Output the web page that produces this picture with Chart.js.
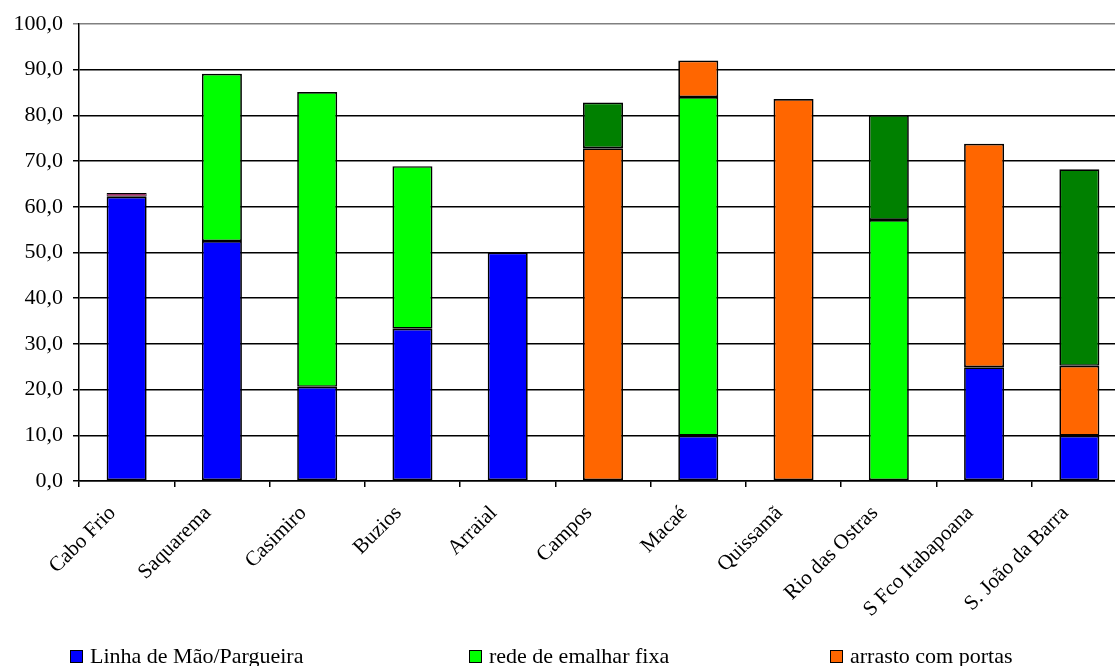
<!DOCTYPE html>
<html>
<head>
<meta charset="utf-8">
<script src="https://cdn.jsdelivr.net/npm/chart.js@4"></script>
<style>
    body { margin: 0; overflow: hidden; background: #fff; }
    #wrap { position: relative; width: 1135px; height: 666px; }
    .leg { position: absolute; top: 643px; font: 22px "Liberation Serif", "Times New Roman", serif; color: #000; white-space: nowrap; }
    .leg span.box { display: inline-block; width: 11px; height: 11px; border: 1.5px solid #000; margin-right: 7px; vertical-align: 0px; }
</style>
</head>
<body>
<div id="wrap">
    <canvas id="chart" width="1135" height="666"></canvas>
</div>
<script>
// Stacked bars per municipality (%)

const categories = ['Cabo Frio', 'Saquarema', 'Casimiro', 'Buzios', 'Arraial', 'Campos', 'Macaé', 'Quissamã', 'Rio das Ostras', 'S Fco Itabapoana', 'S. João da Barra'];

const linhaMao = [62.2, 52.5, 20.6, 33.3, 50.0, null, 9.9, null, null, 24.9, 9.9];
const redeEmalhar = [null, 36.6, 64.5, 35.6, null, null, 74.1, null, 57.1, null, null];
const arrastoPortas = [null, null, null, null, null, 72.8, 8.0, 83.6, null, 48.9, 15.3];
const serie4 = [null, null, null, null, null, 10.0, null, null, 23.0, null, 43.0];
const serie5 = [0.8, null, null, null, null, null, null, null, null, null, null];

const yTicks = [0, 10, 20, 30, 40, 50, 60, 70, 80, 90, 100];

const series = [
    { label: 'Linha de Mão/Pargueira', data: linhaMao, color: '#0000ff', legend: true },
    { label: 'rede de emalhar fixa', data: redeEmalhar, color: '#00ff00', legend: true },
    { label: 'arrasto com portas', data: arrastoPortas, color: '#ff6600', legend: true },
    { label: 'série 4', data: serie4, color: '#008000', legend: false },
    { label: 'série 5', data: serie5, color: '#993366', legend: false }
];

const FONT = { family: '"Liberation Serif", "Times New Roman", serif', size: 22 };

const datasets = series.map(s => ({
    label: s.label,
    data: s.data,
    backgroundColor: s.color,
    borderColor: '#000',
    borderWidth: s.data === serie5 ? 1 : 1.7,
    borderSkipped: false,
    categoryPercentage: 1,
    barPercentage: 0.42
}));

new Chart(document.getElementById('chart'), {
    type: 'bar',
    data: { labels: categories, datasets },
    options: {
        responsive: false,
        animation: false,
        layout: { padding: { top: 24, right: 8, left: 0, bottom: 0 } },
        plugins: {
            legend: { display: false },
            tooltip: { enabled: false }
        },
        scales: {
            x: {
                stacked: true,
                grid: {
                    offset: true,
                    drawOnChartArea: false,
                    drawTicks: true,
                    tickLength: 6,
                    lineWidth: 1.5,
                    color: '#000'
                },
                border: { color: '#000', width: 1.5 },
                ticks: {
                    color: '#000',
                    font: { family: FONT.family, size: 21 },
                    maxRotation: 45,
                    minRotation: 45,
                    autoSkip: false,
                    labelOffset: -14,
                    padding: 14
                },
                afterFit: scale => { scale.height = 185; }
            },
            y: {
                stacked: true,
                min: 0,
                max: 100,
                afterBuildTicks: scale => { scale.ticks = yTicks.map(v => ({ value: v })); },
                grid: {
                    color: ctx => ctx.tick && ctx.tick.value === 100 ? '#808080' : '#000',
                    lineWidth: 1.5,
                    tickLength: 6
                },
                border: { color: '#000', width: 1.5 },
                ticks: {
                    color: '#000',
                    font: FONT,
                    padding: 10,
                    callback: v => v.toFixed(1).replace('.', ',')
                },
                afterFit: scale => { scale.width = 79; }
            }
        }
    }
});

// legend, laid out like the original (only the first row is visible)
const legendX = [70, 469, 830];
const wrap = document.getElementById('wrap');
series.filter(s => s.legend).forEach((s, i) => {
    const el = document.createElement('div');
    el.className = 'leg';
    el.style.left = legendX[i] + 'px';
    el.innerHTML = '<span class="box" style="background:' + s.color + '"></span>' + s.label;
    wrap.appendChild(el);
});
</script>
</body>
</html>
